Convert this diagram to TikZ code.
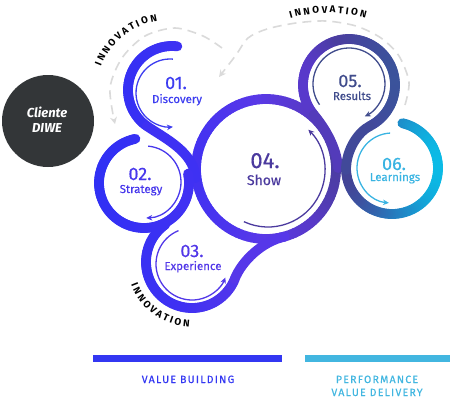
\documentclass[tikz,border=0pt]{standalone}
\usepackage{fontspec}
\setmainfont{Fira Sans}
\newfontfamily\medfont{Fira Sans}[FakeBold=0.5]
\usetikzlibrary{arrows.meta,decorations.text}

\definecolor{dashgray}{HTML}{DADADA}
\definecolor{c01}{HTML}{3D3DF0}
\definecolor{c02}{HTML}{4838EC}
\definecolor{c03}{HTML}{5238E8}
\definecolor{c04}{HTML}{4B3A9E}
\definecolor{c05}{HTML}{404C8C}
\definecolor{c06}{HTML}{3AB4E2}
\definecolor{clientefill}{HTML}{333638}
\definecolor{barblue}{HTML}{3337F2}
\definecolor{barcyan}{HTML}{42B6E0}

\newcommand\setgradA[1]{%
  \pgfmathsetmacro\gtA{max(0,min(1,(#1-95)/95))}%
  \pgfmathsetmacro\gtB{max(0,min(1,(#1-190)/70))}%
  \pgfmathsetmacro\gtC{max(0,min(1,(#1-260)/50))}%
  \pgfmathsetmacro\gtD{max(0,min(1,(#1-310)/30))}%
  \pgfmathsetmacro\gtE{max(0,min(1,(#1-340)/60))}%
  \pgfmathtruncatemacro\segR{48+17*\gtA+25*\gtB-2*\gtC-13*\gtD-17*\gtE}%
  \pgfmathtruncatemacro\segG{48+2*\gtA+7*\gtB+1*\gtC+4*\gtD+23*\gtE}%
  \pgfmathtruncatemacro\segB{245-2*\gtA-11*\gtB-32*\gtC-40*\gtD-5*\gtE}%
  \definecolor{segc}{RGB}{\segR,\segG,\segB}}
\newcommand\setgradB[1]{%
  \pgfmathsetmacro\gtA{max(0,min(1,(#1-346)/49))}%
  \pgfmathsetmacro\gtB{max(0,min(1,(#1-395)/45))}%
  \pgfmathtruncatemacro\segR{68-33*\gtA-25*\gtB}%
  \pgfmathtruncatemacro\segG{68+62*\gtA+60*\gtB}%
  \pgfmathtruncatemacro\segB{150+45*\gtA+37*\gtB}%
  \definecolor{segc}{RGB}{\segR,\segG,\segB}}

% #1 gradient (A/B), #2 cx, #3 cy, #4 radius, #5 start, #6 end (screen angles, clockwise)
\newcommand\bandarc[6]{%
  \pgfmathsetmacro\bspan{#6-#5}%
  \pgfmathtruncatemacro\bn{max(1,abs(\bspan)/3)}%
  \pgfmathsetmacro\bstep{\bspan/\bn}%
  \foreach \k in {1,...,\bn}{%
    \pgfmathsetmacro\angA{#5+(\k-1)*\bstep}%
    \pgfmathsetmacro\angB{\angA+\bstep}%
    \pgfmathsetmacro\xm{#2+#4*cos(\angA+0.5*\bstep)}%
    \csname setgrad#1\endcsname{\xm}%
    \draw[band, draw=segc] (#2,#3) ++(\angA:#4) arc[start angle=\angA, end angle=\angB, radius=#4];
  }}

\newcommand\innofont{\fontsize{9.8}{10}\selectfont\bfseries}

\begin{document}
\begin{tikzpicture}[x=1pt,y=-1pt,
  band/.style={line width=9.8pt, line cap=round},
  thinarrow/.style={line width=1.3pt, -{Stealth[length=6pt,width=5.5pt]}},
  dashline/.style={draw=dashgray, line width=1.6pt, dash pattern=on 9pt off 6pt},
  graytip/.style={-{Stealth[length=7pt,width=7pt]}},
  numtxt/.style={font=\medfont\fontsize{18}{18}\selectfont, inner sep=0pt, anchor=base},
  labtxt/.style={font=\medfont\fontsize{11.5}{12}\selectfont, inner sep=0pt, anchor=base},
  bartxt/.style={font=\medfont\fontsize{10.5}{12}\selectfont\addfontfeatures{LetterSpace=12}, inner sep=0pt, anchor=base},
  innotext/.style={decorate, decoration={text along path, text={|\innofont|I N N O V A T I O N}, text align=center}},
]
\useasboundingbox (0,0) rectangle (450,400);

% dashed innovation loops
\draw[dashline, graytip] plot[smooth] coordinates {(222,48) (203,36) (175,28) (145,36) (122,58) (110,88) (115,124)};
\draw[dashline, graytip] plot[smooth] coordinates {(405,105) (409,82) (399,56) (381,38) (356,26) (326,21) (296,23) (267,29) (248,38) (236,55) (219,77)};

% INNOVATION labels
\path[innotext] (169,93) ++(-182:73) arc[start angle=-182, end angle=-76, radius=73];
\path[innotext] (328,150) ++(-125:137) arc[start angle=-125, end angle=-55, radius=137];
\path[innotext] (192,262) ++(192:65) arc[start angle=192, end angle=60, radius=65];

% Cliente DIWE
\fill[clientefill] (48,121) circle[radius=46];
\node[font=\fontsize{13}{13}\selectfont\bfseries\itshape, text=white, inner sep=0pt, anchor=base] (cl1) at (47,117) {Cliente};
\node[font=\fontsize{13}{13}\selectfont\bfseries\itshape, text=white, inner sep=0pt, anchor=base] (cl2) at (47,132) {DIWE};

% ribbon
\bandarc{A}{266}{169}{70}{0}{360}
\bandarc{A}{172}{90}{44}{-83}{-235}
\setgradA{175}
\draw[band, draw=segc] (146.8,126) .. controls (165,138.5) and (194,152) .. (195.5,178);
\bandarc{A}{144}{183}{45}{-101}{-372}
\bandarc{A}{192}{262}{46}{-125}{-338}
\setgradA{250}
\draw[band, draw=segc] (234.6,279.2) .. controls (242,260.7) and (262,241.6) .. (285,236.5);
\bandarc{B}{392}{168}{46}{-77}{185}
\bandarc{A}{349}{85}{46}{140}{423}
\setgradA{320}
\draw[band, draw=segc] (313.8,114.6) .. controls (325,128) and (337,148) .. (338,168);
\setgradB{350}
\draw[band, draw=segc] (369.9,126) .. controls (358,132) and (346,150) .. (346,170);

% thin inner arrows
\draw[thinarrow, c01] (170,93) ++(-85:34) arc[start angle=-85, end angle=-275, radius=34];
\draw[thinarrow, c02] (145,182) ++(-85:36) arc[start angle=-85, end angle=88, radius=36];
\draw[thinarrow, c03] (192,264) ++(-112:36) arc[start angle=-112, end angle=-338, radius=36];
\draw[thinarrow, c04] (268,170) ++(115:57) arc[start angle=115, end angle=-45, radius=57];
\draw[thinarrow, c05] (349,84) ++(145:36) arc[start angle=145, end angle=424, radius=36];
\draw[thinarrow, c06] (392,168) ++(-93:35) arc[start angle=-93, end angle=-265, radius=35];

% step labels
\node[numtxt, text=c01] (n01) at (176,89) {01.};
\node[labtxt, text=c01] (l01) at (177,103) {Discovery};
\node[numtxt, text=c02] (n02) at (140,180) {02.};
\node[labtxt, text=c02] (l02) at (141,193) {Strategy};
\node[numtxt, text=c03] (n03) at (192,257) {03.};
\node[labtxt, text=c03] (l03) at (193,270) {Experience};
\node[numtxt, text=c04, font=\medfont\fontsize{22}{22}\selectfont] (n04) at (265,168) {04.};
\node[labtxt, text=c04, font=\medfont\fontsize{14}{14}\selectfont] (l04) at (264,185) {Show};
\node[numtxt, text=c05] (n05) at (350,87) {05.};
\node[labtxt, text=c05] (l05) at (352,100) {Results};
\node[numtxt, text=c06] (n06) at (394,170) {06.};
\node[labtxt, text=c06] (l06) at (395,181) {Learnings};

% bottom bars
\fill[barblue] (93,355) rectangle (282,362);
\fill[barcyan] (305,355) rectangle (450,362);
\node[bartxt, text=barblue] (vb) at (188,383) {VALUE BUILDING};
\node[bartxt, text=barcyan] (pf) at (377,383) {PERFORMANCE};
\node[bartxt, text=barcyan] (vd) at (377,396) {VALUE DELIVERY};
\end{tikzpicture}
\end{document}
